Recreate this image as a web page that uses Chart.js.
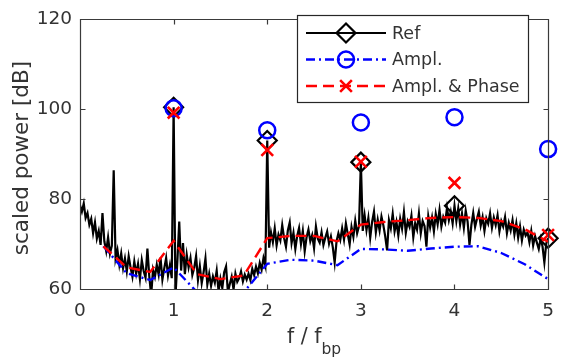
<!DOCTYPE html>
<html>
<head>
<meta charset="utf-8">
<script src="https://cdn.jsdelivr.net/npm/chart.js@4.4.0/dist/chart.umd.min.js"></script>
<style>
  html, body { margin: 0; padding: 0; background: #ffffff; }
  canvas { display: block; }
</style>
</head>
<body>
<canvas id="chart" width="565" height="361"></canvas>
<script>
// Normalised frequency grid of the measured spectrum (f / f_bp)
const FREQ_STEP = 0.02;

// Measured reference spectrum, scaled power in dB, one value per grid step from 0 to 5
const refLevel = [
  78.6, 77.2, 79.0, 75.8, 76.9, 74.3, 75.6, 72.4, 74.8, 71.2,
  72.9, 69.8, 76.9, 70.6, 68.4, 71.5, 67.9, 69.6, 86.4, 66.8,
  68.7, 65.4, 67.9, 64.6, 66.8, 63.9, 67.3, 64.8, 62.7, 66.1,
  63.4, 65.6, 62.2, 66.4, 64.0, 62.5, 69.0, 62.8, 58.6, 64.3,
  62.7, 65.4, 63.2, 67.0, 62.1, 64.6, 66.9, 63.0, 65.3, 62.4,
  100.4, 58.5, 66.2, 75.0, 64.1, 70.2, 63.3, 67.6, 64.8, 66.9,
  63.1, 64.7, 67.3, 62.0, 65.1, 61.3, 63.7, 66.8, 61.0, 63.4,
  60.7, 62.8, 61.4, 64.1, 59.5, 62.3, 60.2, 63.7, 65.0, 59.3,
  61.1, 62.7, 59.9, 63.4, 61.6, 62.4, 63.9, 61.7, 63.2, 62.1,
  63.4, 62.0, 64.5, 63.1, 65.0, 63.5, 65.8, 64.3, 66.9, 65.2,
  93.0, 69.2, 72.6, 70.4, 73.5, 69.7, 72.1, 70.8, 74.2, 71.3,
  69.4, 73.0, 74.8, 70.2, 72.5, 68.9, 71.8, 73.6, 70.0, 72.9,
  68.4, 71.5, 73.2, 70.6, 72.0, 69.1, 73.9, 71.2, 70.3, 72.6,
  69.8, 71.4, 72.8, 70.1, 71.7, 69.3, 65.9, 70.6, 72.4, 70.9,
  73.5, 71.0, 74.6, 72.2, 69.9, 73.8, 71.6, 75.2, 72.4, 74.0,
  88.2, 72.9, 76.4, 73.1, 75.8, 71.4, 74.9, 77.2, 72.6, 75.4,
  73.0, 76.1, 74.2, 71.7, 68.6, 75.3, 73.5, 76.7, 72.8, 74.9,
  71.9, 75.6, 73.4, 77.1, 72.5, 75.0, 73.8, 76.3, 71.5, 74.6,
  73.2, 76.8, 72.4, 75.1, 74.0, 69.4, 76.2, 73.7, 75.9, 72.8,
  76.7, 74.4, 77.6, 73.9, 76.0, 74.8, 78.0, 75.3, 77.2, 74.6,
  78.5, 75.1, 77.9, 74.3, 76.8, 73.6, 77.4, 75.0, 69.8, 74.2,
  76.9, 73.8, 75.6, 77.2, 74.1, 76.0, 72.9, 75.7, 74.5, 76.8,
  73.6, 75.9, 74.2, 76.4, 72.8, 75.1, 73.9, 76.0, 72.4, 74.7,
  73.0, 75.3, 72.1, 74.6, 71.4, 73.9, 70.8, 73.2, 71.9, 72.6,
  70.4, 72.9, 69.7, 71.8, 70.3, 68.9, 71.2, 69.5, 65.9, 70.1,
  71.3
];

// Reconstructed spectra, evaluated on a coarse frequency grid
const envFreq    = [0.25, 0.5, 0.75, 1, 1.25, 1.5, 1.75, 2, 2.25, 2.5, 2.75, 3, 3.25, 3.5, 3.75, 4, 4.25, 4.5, 4.75, 5];
const amplLevel  = [69.5, 63.5, 62.0, 64.8, 59.3, 55.5, 59.3, 65.6, 66.5, 66.3, 65.3, 68.9, 68.8, 68.5, 69.0, 69.4, 69.5, 68.0, 65.5, 62.2];
const phaseLevel = [69.5, 64.8, 63.8, 70.7, 63.3, 62.2, 63.0, 71.3, 71.8, 71.8, 70.6, 74.3, 74.9, 75.3, 75.8, 76.0, 75.8, 75.1, 73.3, 70.5];

// Harmonic peaks of the blade-passing frequency
const harmonics = [1, 2, 3, 4, 5];
const amplPeak  = [100.2, 95.3, 97.0, 98.2, 91.1];
const phasePeak = [99.2, 90.9, 88.3, 83.6, 72.0];

const seriesNames = ['Ref', 'Ampl.', 'Ampl. & Phase'];
const xTitle = 'f / f';
const xTitleSub = 'bp';
const yTitle = 'scaled power [dB]';

const TEXT_COLOR = '#333333';
const AXIS_COLOR = '#3a3a3a';
const FONT = 'DejaVu Sans';

const refPoints = refLevel.map((v, i) => ({ x: Math.round(i * FREQ_STEP * 100) / 100, y: v }));
const refMarkers = harmonics.map(h => refPoints.find(p => Math.abs(p.x - h) < 1e-9));
const amplPoints = envFreq.map((f, i) => ({ x: f, y: amplLevel[i] }));
const phasePoints = envFreq.map((f, i) => ({ x: f, y: phaseLevel[i] }));
const amplMarkers = harmonics.map((h, i) => ({ x: h, y: amplPeak[i] }));
const phaseMarkers = harmonics.map((h, i) => ({ x: h, y: phasePeak[i] }));

const styles = [
  { color: '#000000', width: 2.2, dash: [], marker: 'rectRot', radius: 9.5, markerWidth: 2.2 },
  { color: '#0000ff', width: 2.4, dash: [9, 4, 2, 4], marker: 'circle', radius: 8, markerWidth: 2.5 },
  { color: '#ff0000', width: 2.4, dash: [11, 6], marker: 'crossRot', radius: 8.3, markerWidth: 2.6 }
];

function lineSet(label, data, s, order) {
  return {
    label, data, order,
    borderColor: s.color, borderWidth: s.width, borderDash: s.dash,
    pointRadius: 0, pointHoverRadius: 0, tension: 0, fill: false
  };
}
function markerSet(label, data, s, order) {
  return {
    label, data, order, showLine: false, clip: false,
    pointStyle: s.marker, pointRadius: s.radius, pointHoverRadius: s.radius,
    pointBorderColor: s.color, pointBackgroundColor: 'rgba(0,0,0,0)',
    pointBorderWidth: s.markerWidth, borderColor: s.color
  };
}

function drawMarker(ctx, s, x, y) {
  ctx.save();
  ctx.setLineDash([]);
  ctx.strokeStyle = s.color;
  ctx.lineWidth = s.markerWidth;
  ctx.beginPath();
  const r = s.radius;
  if (s.marker === 'circle') {
    ctx.arc(x, y, r, 0, Math.PI * 2);
  } else if (s.marker === 'rectRot') {
    ctx.moveTo(x, y - r); ctx.lineTo(x + r, y); ctx.lineTo(x, y + r); ctx.lineTo(x - r, y); ctx.closePath();
  } else {
    const d = r * Math.SQRT1_2;
    ctx.moveTo(x - d, y - d); ctx.lineTo(x + d, y + d);
    ctx.moveTo(x - d, y + d); ctx.lineTo(x + d, y - d);
  }
  ctx.stroke();
  ctx.restore();
}

const decorations = {
  id: 'decorations',
  afterDatasetsDraw(chart) {
    const { ctx, chartArea: a, scales: { x, y } } = chart;
    const L = Math.round(a.left) + 0.5, R = Math.round(a.right) + 0.5;
    const T = Math.round(a.top) + 0.5, B = Math.round(a.bottom) + 0.5;
    const tick = 5;
    ctx.save();
    ctx.strokeStyle = AXIS_COLOR;
    ctx.lineWidth = 1.2;
    ctx.setLineDash([]);
    ctx.beginPath();
    ctx.rect(L, T, R - L, B - T);
    x.ticks.forEach(t => {
      const px = Math.round(x.getPixelForValue(t.value)) + 0.5;
      ctx.moveTo(px, B); ctx.lineTo(px, B - tick);
      ctx.moveTo(px, T); ctx.lineTo(px, T + tick);
    });
    y.ticks.forEach(t => {
      const py = Math.round(y.getPixelForValue(t.value)) + 0.5;
      ctx.moveTo(L, py); ctx.lineTo(L + tick, py);
      ctx.moveTo(R, py); ctx.lineTo(R - tick, py);
    });
    ctx.stroke();
    ctx.restore();
  },
  afterDraw(chart) {
    const { ctx, chartArea: a } = chart;
    ctx.save();
    ctx.fillStyle = TEXT_COLOR;

    // y axis title
    ctx.save();
    ctx.translate(28, (a.top + a.bottom) / 2 + 4);
    ctx.rotate(-Math.PI / 2);
    ctx.font = `21.5px "${FONT}"`;
    ctx.textAlign = 'center';
    ctx.textBaseline = 'alphabetic';
    ctx.fillText(yTitle, 0, 0);
    ctx.restore();

    // x axis title with subscript
    ctx.font = `20.5px "${FONT}"`;
    const w1 = ctx.measureText(xTitle).width;
    ctx.font = `15.5px "${FONT}"`;
    const w2 = ctx.measureText(xTitleSub).width;
    const x0 = (a.left + a.right) / 2 - (w1 + w2) / 2;
    ctx.textAlign = 'left';
    ctx.textBaseline = 'alphabetic';
    ctx.font = `20.5px "${FONT}"`;
    ctx.fillText(xTitle, x0, 343);
    ctx.font = `15.5px "${FONT}"`;
    ctx.fillText(xTitleSub, x0 + w1, 354);

    // legend
    const box = { x: 297.5, y: 15.5, w: 231, h: 87 };
    ctx.fillStyle = '#ffffff';
    ctx.fillRect(box.x, box.y, box.w, box.h);
    ctx.strokeStyle = '#262626';
    ctx.lineWidth = 1.2;
    ctx.setLineDash([]);
    ctx.strokeRect(box.x, box.y, box.w, box.h);
    const rows = [33, 59.5, 86];
    seriesNames.forEach((name, i) => {
      const s = styles[i];
      const ry = rows[i];
      ctx.save();
      ctx.strokeStyle = s.color;
      ctx.lineWidth = s.width;
      ctx.setLineDash(s.dash);
      ctx.beginPath();
      ctx.moveTo(306, ry); ctx.lineTo(386, ry);
      ctx.stroke();
      ctx.restore();
      drawMarker(ctx, s, 346, ry);
      ctx.fillStyle = TEXT_COLOR;
      ctx.font = `17.5px "${FONT}"`;
      ctx.textAlign = 'left';
      ctx.textBaseline = 'middle';
      ctx.fillText(name, 392, ry + 1);
    });
    ctx.restore();
  }
};

new Chart(document.getElementById('chart'), {
  type: 'line',
  data: {
    datasets: [
      lineSet(seriesNames[0], refPoints, styles[0], 6),
      lineSet(seriesNames[1], amplPoints, styles[1], 5),
      lineSet(seriesNames[2], phasePoints, styles[2], 4),
      markerSet(seriesNames[0], refMarkers, styles[0], 3),
      markerSet(seriesNames[1], amplMarkers, styles[1], 2),
      markerSet(seriesNames[2], phaseMarkers, styles[2], 1)
    ]
  },
  options: {
    responsive: false,
    devicePixelRatio: 1,
    animation: false,
    events: [],
    layout: { padding: { top: 19, right: 16, left: 0, bottom: 0 } },
    plugins: { legend: { display: false }, tooltip: { enabled: false } },
    scales: {
      x: {
        type: 'linear', min: 0, max: 5,
        ticks: { stepSize: 1, color: TEXT_COLOR, font: { family: FONT, size: 18.5 }, padding: 11, maxRotation: 0 },
        grid: { display: false, drawTicks: false },
        border: { display: false },
        afterFit(scale) { scale.height = 72; }
      },
      y: {
        type: 'linear', min: 60, max: 120,
        ticks: { stepSize: 20, color: TEXT_COLOR, font: { family: FONT, size: 18.5 }, padding: 8 },
        grid: { display: false, drawTicks: false },
        border: { display: false },
        afterFit(scale) { scale.width = 80; }
      }
    }
  },
  plugins: [decorations]
});
</script>
</body>
</html>
